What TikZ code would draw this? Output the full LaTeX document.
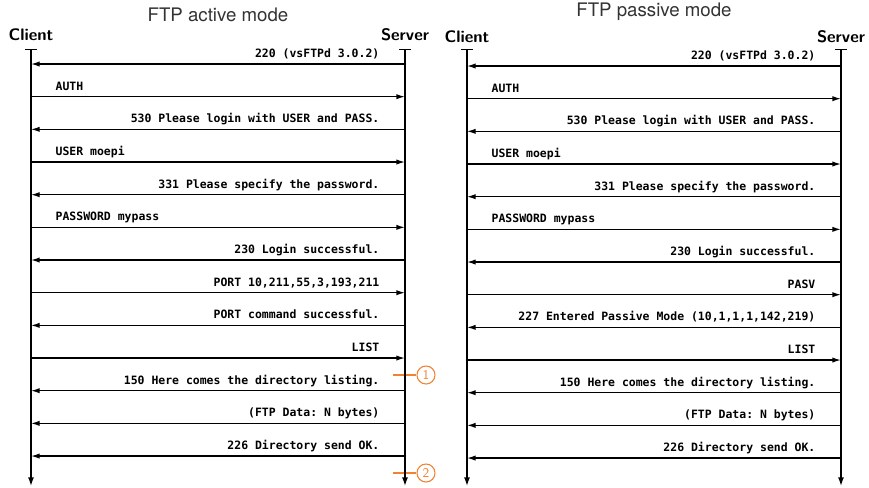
\documentclass[tikz,border=0pt]{standalone}
\usepackage{fontspec}
\setmonofont{DejaVu Sans Mono}
\newfontfamily\titlefont{TeX Gyre Heros}
\usetikzlibrary{arrows.meta}
\definecolor{markorange}{RGB}{240,130,50}

\begin{document}
\begin{tikzpicture}[
  x=0.75pt, y=-0.75pt,
  ttl/.style={font=\fontsize{14}{16}\selectfont\titlefont, text=black!80},
  actor/.style={font=\fontsize{12.5}{14}\selectfont\sffamily\bfseries},
  life/.style={line width=1pt, {Bar[width=9pt]}-{Latex[length=6.5pt,width=4.5pt]}},
  msg/.style={line width=1pt, -{Latex[length=6.5pt,width=4pt]}},
  lbl/.style={inner sep=0pt, yshift=5pt, font=\fontsize{8.6}{10}\selectfont\ttfamily\bfseries},
  lblr/.style={lbl, anchor=base east, xshift=-18.75pt},
  lbll/.style={lbl, anchor=base west, xshift=18pt},
  marker/.style={circle, draw=markorange, text=markorange, line width=0.8pt,
    minimum size=13.5pt, inner sep=0pt, font=\fontsize{10}{10}\selectfont\sffamily},
  markline/.style={markorange, line width=0.8pt}
]
  \useasboundingbox (0,0) rectangle (869,487);

  % rows of the two charts
  \foreach \i in {1,...,13} {
    \coordinate (a\i) at (0,{64+32.67*(\i-1)});
    \coordinate (p\i) at (0,{66+32.67*(\i-1)});
  }
  \coordinate (top) at (0,49);
  \coordinate (bot) at (0,486);

  % Active mode
  \node[ttl] (t1) at (218,15) {FTP active mode};
  \node[actor] (c1) at (31,35) {Client};
  \node[actor] (s1) at (405,35) {Server};

  \node[marker] (m1) at (426,375) {1};
  \node[marker] (m2) at (426,473) {2};
  \coordinate (m1s) at (393,375);
  \coordinate (m2s) at (393,473);
  \draw[markline] (m1s) -- (m1);
  \draw[markline] (m2s) -- (m2);

  \draw[life] (c1 |- top) -- (c1 |- bot);
  \draw[life] (s1 |- top) -- (s1 |- bot);

  \draw[msg] (s1 |- a1) node[lblr] {220 (vsFTPd 3.0.2)} -- (c1 |- a1);
  \draw[msg] (c1 |- a2) node[lbll] {AUTH} -- (s1 |- a2);
  \draw[msg] (s1 |- a3) node[lblr] {530 Please login with USER and PASS.} -- (c1 |- a3);
  \draw[msg] (c1 |- a4) node[lbll] {USER moepi} -- (s1 |- a4);
  \draw[msg] (s1 |- a5) node[lblr] {331 Please specify the password.} -- (c1 |- a5);
  \draw[msg] (c1 |- a6) node[lbll] {PASSWORD mypass} -- (s1 |- a6);
  \draw[msg] (s1 |- a7) node[lblr] {230 Login successful.} -- (c1 |- a7);
  \draw[msg] (c1 |- a8) -- (s1 |- a8) node[lblr] {PORT 10,211,55,3,193,211};
  \draw[msg] (s1 |- a9) node[lblr] {PORT command successful.} -- (c1 |- a9);
  \draw[msg] (c1 |- a10) -- (s1 |- a10) node[lblr] {LIST};
  \draw[msg] (s1 |- a11) node[lblr] {150 Here comes the directory listing.} -- (c1 |- a11);
  \draw[msg] (s1 |- a12) node[lblr] {(FTP Data: N bytes)} -- (c1 |- a12);
  \draw[msg] (s1 |- a13) node[lblr] {226 Directory send OK.} -- (c1 |- a13);

  % Passive mode
  \node[ttl] (t2) at (654,12) {FTP passive mode};
  \node[actor] (c2) at (467,37) {Client};
  \node[actor] (s2) at (841,37) {Server};

  \draw[life] (c2 |- top) -- (c2 |- bot);
  \draw[life] (s2 |- top) -- (s2 |- bot);

  \draw[msg] (s2 |- p1) node[lblr] {220 (vsFTPd 3.0.2)} -- (c2 |- p1);
  \draw[msg] (c2 |- p2) node[lbll] {AUTH} -- (s2 |- p2);
  \draw[msg] (s2 |- p3) node[lblr] {530 Please login with USER and PASS.} -- (c2 |- p3);
  \draw[msg] (c2 |- p4) node[lbll] {USER moepi} -- (s2 |- p4);
  \draw[msg] (s2 |- p5) node[lblr] {331 Please specify the password.} -- (c2 |- p5);
  \draw[msg] (c2 |- p6) node[lbll] {PASSWORD mypass} -- (s2 |- p6);
  \draw[msg] (s2 |- p7) node[lblr] {230 Login successful.} -- (c2 |- p7);
  \draw[msg] (c2 |- p8) -- (s2 |- p8) node[lblr] {PASV};
  \draw[msg] (s2 |- p9) node[lblr] {227 Entered Passive Mode (10,1,1,1,142,219)} -- (c2 |- p9);
  \draw[msg] (c2 |- p10) -- (s2 |- p10) node[lblr] {LIST};
  \draw[msg] (s2 |- p11) node[lblr] {150 Here comes the directory listing.} -- (c2 |- p11);
  \draw[msg] (s2 |- p12) node[lblr] {(FTP Data: N bytes)} -- (c2 |- p12);
  \draw[msg] (s2 |- p13) node[lblr] {226 Directory send OK.} -- (c2 |- p13);
\end{tikzpicture}
\end{document}
